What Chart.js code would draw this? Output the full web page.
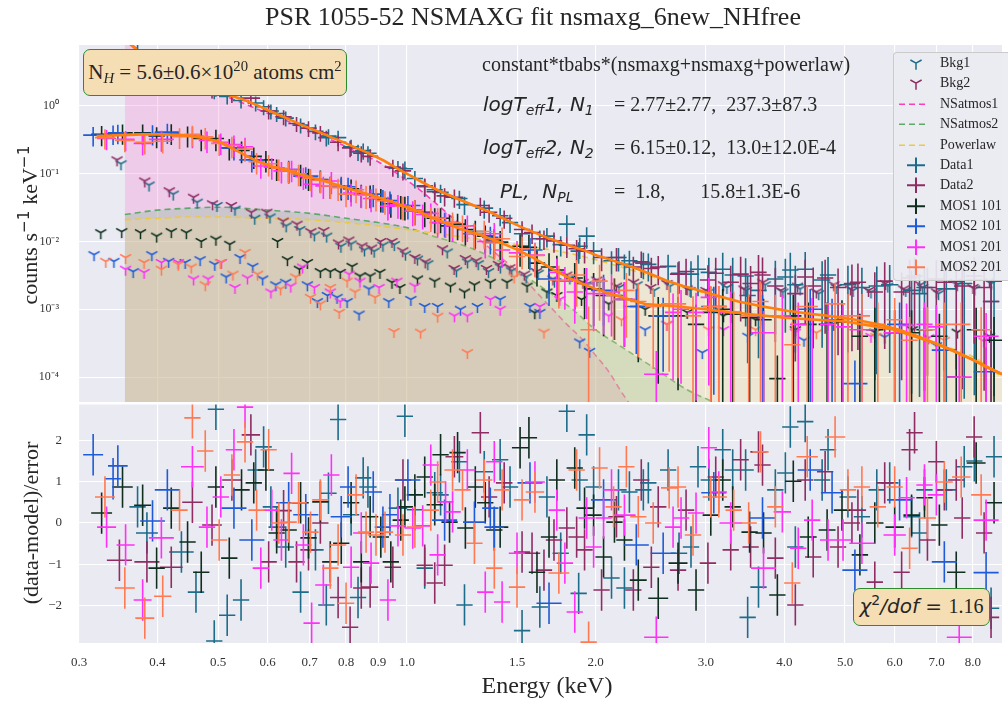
<!DOCTYPE html>
<html lang="en">
<head>
<meta charset="UTF-8">
<title>PSR 1055-52 NSMAXG fit nsmaxg_6new_NHfree</title>
<script src="https://cdn.jsdelivr.net/npm/chart.js"></script>
<style>
  body { margin: 0; background: #fff; }
  #wrap { position: relative; width: 1008px; height: 704px; overflow: hidden;
          font-family: "Liberation Serif", "Times New Roman", serif; color: #262626; }
  #plot { position: absolute; left: 0; top: 0; }
  .lbl { position: absolute; white-space: pre; }
  .math { font-family: "DejaVu Sans", sans-serif; font-style: italic; }
  sub, sup { font-size: 70%; line-height: 0; position: relative; vertical-align: baseline; }
  sub { bottom: -0.3em; }
  sup { top: -0.55em; }
  .box { position: absolute; box-sizing: border-box; background: #F5DEB3;
         border: 1.5px solid #2E8B2E; border-radius: 7px; text-align: center; white-space: nowrap; }
  .vert { position: absolute; transform: translate(-50%, -50%) rotate(-90deg); white-space: nowrap; }
  #legend { position: absolute; left: 893px; top: 52px; width: 130px; padding-bottom: 3px;
            background: rgba(234, 234, 242, 0.92); border: 1px solid rgba(200, 200, 200, 0.9);
            border-radius: 4px; font-size: 14px; }
  #legend .row { position: relative; height: 20.4px; line-height: 20.4px; }
  #legend svg { position: absolute; left: 1px; top: 0; }
  #legend span { position: absolute; left: 46px; top: 0; }
</style>
</head>
<body>
<div id="wrap">
  <canvas id="plot" width="1008" height="704"></canvas>

  <div class="lbl" style="left:0;width:1066px;text-align:center;top:2px;font-size:26px;line-height:30px">PSR 1055-52 NSMAXG fit nsmaxg_6new_NHfree</div>
  <div class="lbl" style="left:0;width:1094px;text-align:center;top:671px;font-size:24px;line-height:28px">Energy (keV)</div>
  <div class="vert" style="left:30px;top:225px;font-size:22px">counts s<sup class="math" style="font-style:normal">−1</sup> keV<sup class="math" style="font-style:normal">−1</sup></div>
  <div class="vert" style="left:31px;top:523px;font-size:22px">(data-model)/error</div>

  <div class="box" style="left:83px;top:49px;width:264px;height:47px;line-height:44px;font-size:21px">N<sub><i>H</i></sub> = 5.6±0.6×10<sup>20</sup> atoms cm<sup>2</sup></div>

  <div class="lbl" style="left:482px;top:52px;font-size:20px;line-height:24px">constant*tbabs*(nsmaxg+nsmaxg+powerlaw)</div>
  <div class="lbl" style="left:483px;top:92px;font-size:20px;line-height:24px"><span class="math" style="display:inline-block;width:131px">logT<sub>eff</sub>1, N<sub>1</sub></span>= 2.77±2.77,  237.3±87.3</div>
  <div class="lbl" style="left:483px;top:135px;font-size:20px;line-height:24px"><span class="math" style="display:inline-block;width:131px">logT<sub>eff</sub>2, N<sub>2</sub></span>= 6.15±0.12,  13.0±12.0E-4</div>
  <div class="lbl" style="left:500px;top:179px;font-size:20px;line-height:24px"><span class="math" style="display:inline-block;width:114px">PL,  N<sub>PL</sub></span>=  1.8,       15.8±1.3E-6</div>

  <div class="box" style="left:853px;top:588px;width:137px;height:38px;line-height:35px;font-size:20px"><span class="math">χ</span><sup class="math" style="font-style:normal">2</sup><span class="math">/dof</span><span class="math" style="font-style:normal"> = </span>1.16</div>

  <div id="legend"></div>
</div>

<script>
// ---- spectrum: energy (keV), counts s^-1 keV^-1, relative error, residual ----
const d1E = [0.372,0.385,0.437,0.461,0.493,0.496,0.517,0.544,0.574,0.591,
  0.607,0.620,0.641,0.677,0.715,0.744,0.750,0.777,0.815,0.836,
  0.852,0.867,0.968,0.993,1.030,1.068,1.108,1.132,1.213,1.236,
  1.329,1.409,1.461,1.527,1.630,1.673,1.760,1.800,1.880,1.887,
  1.936,1.986,2.121,2.176,2.224,2.265,2.384,2.428,2.611,2.718,
  2.840,2.914,3.032,3.191,3.310,3.471,3.497,3.639,3.871,4.016,
  4.090,4.166,4.320,4.597,4.698,5.054,5.320,5.619,5.892,6.385,
  6.574,6.695,7.254,7.747,8.040,8.550,8.644];
const d1F = [6.6,5.0,2.5,1.9,1.6,1.75,1.38,1.2,1.1,0.97,
  0.84,0.77,0.66,0.52,0.42,0.34,0.36,0.34,0.25,0.21,
  0.22,0.20,0.12,0.118,0.085,0.064,0.058,0.053,0.043,0.035,
  0.031,0.024,0.019,0.013,0.011,0.012,0.009,0.018,0.0072,0.0085,
  0.012,0.0072,0.0052,0.0058,0.0046,0.0052,0.0048,0.0046,0.0043,0.0034,
  0.0033,0.0039,0.0035,0.0039,0.0032,0.0031,0.0016,0.0019,0.0028,0.0030,
  0.0038,0.0023,0.0039,0.0027,0.0032,0.0023,0.0021,0.0022,0.0023,0.0019,
  0.0017,0.0021,0.0020,0.0024,0.0027,0.0013,0.0026];
const d1Err = [.2,.2,.22,.22,.22,.22,.24,.24,.25,.25,
  .25,.25,.25,.25,.26,.26,.26,.26,.27,.27,
  .27,.27,.28,.28,.29,.29,.29,.3,.3,.3,
  .3,.3,.3,.32,.32,.32,.33,.35,.35,.35,
  .35,.36,.38,.38,.4,.4,.42,.44,.48,.5,
  .55,.6,.65,.75,.8,.82,.9,.9,.85,.85,
  .8,.9,.8,.9,.85,.9,.95,.95,.95,.97,
  .97,.97,.98,.98,.98,.99,.98];
const d1Res = [0.39,-0.24,-0.70,-1.67,-2.85,2.75,-2.23,-1.86,1.28,1.84,
  0.39,-0.10,-0.58,-1.67,-0.65,-1.98,0.72,2.50,0.20,-1.80,
  1.09,0.87,0.36,2.58,0.32,-1.09,0.73,0.68,1.48,-1.98,
  1.24,1.53,0.87,-2.60,-2.03,0.63,-0.73,2.70,-1.70,1.04,
  2.13,0.87,-1.33,0.80,-1.57,0.75,0.80,0.97,1.28,-0.73,
  -0.58,1.36,1.04,1.77,1.28,1.28,-2.28,-1.55,0.80,1.21,
  2.32,-0.58,2.45,1.04,1.77,0.63,0.15,0.80,0.97,0.15,
  -0.24,0.80,0.80,1.36,1.50,-2.06,1.60];

const d2E = [0.348,0.385,0.421,0.455,0.489,0.526,0.564,0.602,0.636,0.667,
  0.697,0.728,0.777,0.812,0.846,0.874,0.950,0.986,1.068,1.108,
  1.149,1.191,1.310,1.353,1.430,1.527,1.584,1.655,1.717,1.800,
  1.866,1.921,2.045,2.160,2.298,2.366,2.455,2.518,2.708,2.789,
  3.022,3.110,3.286,3.408,3.535,3.639,3.693,3.871,4.166,4.320,
  4.449,4.648,4.874,5.129,5.243,5.578,5.785,6.156,6.339,6.455,
  6.768,6.993,7.201,7.523,7.690,8.035,8.334,8.549];
const d2F = [11,5.0,2.9,2.1,1.65,1.45,1.3,0.84,0.69,0.55,
  0.47,0.40,0.29,0.24,0.20,0.18,0.125,0.11,0.066,0.054,
  0.047,0.045,0.034,0.027,0.022,0.015,0.0135,0.011,0.0102,0.0088,
  0.0078,0.0073,0.0058,0.0058,0.0042,0.0050,0.0040,0.0042,0.0033,0.0036,
  0.0027,0.0034,0.0025,0.0033,0.0024,0.0035,0.0032,0.0022,0.0017,0.0030,
  0.0022,0.0029,0.0021,0.0024,0.0025,0.0018,0.0026,0.0018,0.0029,0.0031,
  0.0021,0.0028,0.0025,0.0026,0.0022,0.0031,0.0021,0.0013];
const d2Err = [.2,.2,.2,.22,.22,.24,.25,.25,.25,.25,
  .26,.26,.26,.27,.27,.27,.28,.28,.29,.29,
  .3,.3,.3,.3,.3,.32,.32,.32,.33,.35,
  .35,.35,.37,.38,.42,.42,.44,.46,.5,.55,
  .65,.7,.75,.8,.82,.8,.82,.85,.9,.8,
  .88,.85,.9,.9,.9,.95,.9,.95,.85,.85,
  .95,.9,.95,.95,.97,.9,.97,.99];
const d2Res = [-0.9,-0.94,-1.07,0.5,-0.05,1.04,2.13,-0.94,0.3,-0.94,
  -0.65,0.0,-1.8,-2.52,-1.57,-1.55,-1.07,1.04,-1.02,-1.45,
  -1.02,1.6,2.18,0.63,0.97,-0.7,-0.73,-1.14,-0.41,-0.12,
  -0.34,-0.65,-1.62,0.15,-1.62,1.04,-1.07,0.39,-1.14,0.31,
  -0.97,1.11,-0.65,1.53,-0.58,1.72,1.4,-0.85,-1.98,1.04,
  -0.82,1.24,-0.58,0.0,0.31,-1.43,0.97,-1.19,1.77,2.18,
  -0.41,1.48,0.8,1.04,0.12,2.08,-0.24,-2.28];

const m1E = [0.326,0.352,0.379,0.399,0.421,0.447,0.470,0.496,0.521,0.545,
  0.570,0.596,0.620,0.648,0.677,0.697,0.728,0.755,0.786,0.815,
  0.846,0.874,0.909,0.943,0.978,0.993,1.030,1.068,1.108,1.132,
  1.170,1.205,1.240,1.286,1.334,1.379,1.409,1.516,1.566,1.613,
  1.686,1.735,1.853,1.921,1.986,2.060,2.144,2.224,2.340,2.518,
  2.708,2.893,3.054,3.191,3.310,3.522,3.707,3.900,4.135,4.368,
  4.682,4.945,5.281,5.578,6.001,6.385,6.695,7.071,7.523,8.094,
  8.644];
const m1F = [0.38,0.40,0.40,0.36,0.40,0.37,0.33,0.33,0.24,0.22,
  0.18,0.16,0.12,0.11,0.10,0.087,0.082,0.066,0.063,0.060,
  0.050,0.049,0.043,0.036,0.034,0.033,0.029,0.027,0.022,0.022,
  0.017,0.018,0.015,0.014,0.012,0.0105,0.0098,0.0085,0.0082,0.0048,
  0.0042,0.0038,0.0029,0.0024,0.0020,0.0016,0.0016,0.0014,0.0011,0.0008,
  0.0008,0.0006,0.0009,0.0010,0.00085,0.00075,0.0007,0.000095,0.0008,0.0006,
  0.0006,0.00065,0.0004,0.0005,0.00045,0.00045,0.0005,0.0004,0.0001,0.0005,
  0.00035];
const m1Err = [.33,.33,.33,.34,.34,.34,.35,.35,.35,.35,
  .35,.35,.35,.35,.35,.36,.36,.36,.36,.37,
  .37,.37,.38,.38,.38,.38,.4,.4,.4,.4,
  .42,.42,.42,.44,.44,.46,.46,.5,.52,.55,
  .6,.62,.66,.7,.72,.75,.78,.8,.85,.9,
  .92,.95,1.0,1.0,1.02,1.05,1.05,1.2,1.05,1.1,
  1.1,1.1,1.15,1.1,1.15,1.15,1.1,1.15,1.3,1.1,
  1.2];
const m1Res = [0.24,0.87,0.43,-1.09,0.36,-0.46,-1.19,0.87,-0.85,0.80,
  0.97,1.28,-0.24,-0.17,0.49,-0.36,0.51,-0.94,-0.49,0.49,
  -0.94,0.15,-0.34,-0.94,0.07,0.39,0.68,1.11,0.44,1.65,
  0.02,1.70,-0.12,0.87,0.49,-0.17,-0.10,1.82,2.06,-1.19,
  -0.34,1.04,1.33,0.36,0.19,-0.82,0.02,-0.41,-1.38,-1.82,
  -0.97,-1.62,0.19,1.04,0.39,-0.22,-0.24,-1.74,1.01,-0.34,
  -0.17,0.31,-0.77,0.0,-0.10,0.19,0.61,-0.05,-1.19,1.45,
  0.49];

const m2E = [0.316,0.340,0.346,0.393,0.415,0.530,0.566,0.648,0.690,0.786,
  0.806,0.884,0.916,0.940,1.004,1.149,1.282,1.359,1.379,1.572,
  1.686,2.060,2.323,2.564,3.088,3.693,4.400,4.768,5.185,6.110,
  7.201,8.395];
const m2F = [0.37,0.39,0.40,0.39,0.41,0.24,0.16,0.115,0.092,0.066,
  0.064,0.050,0.042,0.040,0.034,0.019,0.013,0.0115,0.0098,0.0075,
  0.0028,0.0019,0.0011,0.0008,0.0011,0.0008,0.0010,0.0007,0.00008,0.0006,
  0.00025,0.00012];
const m2Err = [.32,.32,.32,.33,.33,.35,.35,.35,.35,.36,
  .36,.36,.37,.37,.38,.4,.42,.44,.44,.5,
  .6,.7,.8,.85,.95,1.05,1.0,1.05,1.2,1.1,
  1.2,1.3];
const m2Res = [1.65,1.07,1.38,0.05,0.80,0.36,-0.41,0.49,0.20,0.15,
  0.87,0.75,-0.10,0.20,1.04,0.07,0.02,0.36,-0.10,0.97,
  -1.94,0.56,-0.53,-0.73,0.73,0.12,1.28,0.73,-1.14,0.56,
  -0.94,-1.2];

const m3E = [0.332,0.356,0.379,0.406,0.455,0.480,0.505,0.530,0.552,0.585,
  0.609,0.631,0.655,0.684,0.705,0.736,0.758,0.815,0.846,0.877,
  0.933,0.968,1.022,1.060,1.092,1.120,1.153,1.183,1.249,1.334,
  1.379,1.419,1.499,1.601,1.735,1.787,1.853,1.936,1.986,2.060,
  2.121,2.224,2.500,2.659,2.738,2.893,3.032,3.145,3.286,3.707,
  3.972,4.211,4.432,4.698,4.964,5.320,6.001,6.269,6.695,6.993,
  7.606,8.395];
const m3F = [0.33,0.32,0.28,0.32,0.36,0.31,0.29,0.27,0.25,0.13,
  0.125,0.11,0.115,0.09,0.07,0.066,0.078,0.052,0.049,0.043,
  0.033,0.035,0.028,0.025,0.026,0.019,0.019,0.017,0.017,0.010,
  0.013,0.0075,0.0068,0.0063,0.0035,0.0026,0.0018,0.0024,0.0017,0.0017,
  0.0018,0.0014,0.00011,0.0009,0.0010,0.0009,0.0015,0.0011,0.0009,0.00045,
  0.0008,0.0006,0.0007,0.0006,0.00055,0.0005,0.00045,0.00058,0.0006,0.00055,
  0.0001,0.0004];
const m3Err = [.33,.33,.34,.34,.34,.35,.35,.35,.35,.35,
  .35,.35,.35,.36,.36,.36,.36,.37,.37,.37,
  .38,.38,.4,.4,.4,.4,.41,.42,.42,.44,
  .44,.46,.5,.52,.6,.62,.66,.7,.72,.75,
  .78,.8,1.2,.9,.92,.95,.95,1.0,1.02,1.1,
  1.05,1.1,1.1,1.1,1.1,1.15,1.15,1.1,1.1,1.1,
  1.3,1.2];
const m3Res = [-0.10,-0.53,-1.86,-0.36,1.36,-0.10,0.63,1.77,2.80,-1.09,
  0.31,-0.41,1.20,-0.53,-2.42,-1.50,1.16,-1.07,-0.24,-0.97,
  -1.86,-0.07,-0.12,-0.07,1.40,-0.77,0.51,0.27,1.28,-1.67,
  1.48,-1.91,-0.73,0.99,0.31,-0.97,-2.15,0.12,-0.58,0.12,
  0.80,0.19,-2.76,-0.10,0.12,0.24,1.82,0.75,0.0,-1.09,
  0.27,-0.61,0.07,-0.41,-0.41,-0.49,-0.29,0.61,0.92,0.68,
  -2.76,0.07];

const m4E = [0.330,0.355,0.382,0.408,0.434,0.455,0.477,0.502,0.526,0.552,
  0.576,0.602,0.625,0.648,0.672,0.702,0.728,0.755,0.777,0.800,
  0.830,0.861,0.893,0.923,0.986,1.030,1.092,1.120,1.183,1.227,
  1.282,1.329,1.379,1.419,1.499,1.527,1.601,1.748,1.866,1.950,
  2.030,2.137,2.240,2.340,2.472,2.621,2.708,2.861,3.054,3.145,
  3.322,3.510,3.666,3.871,4.120,4.352,4.821,5.054,5.320,5.640,
  6.001,6.339,6.768,7.201,7.662,8.244];
const m4F = [0.34,0.31,0.29,0.30,0.35,0.38,0.35,0.28,0.26,0.23,
  0.15,0.14,0.12,0.11,0.10,0.086,0.08,0.066,0.062,0.05,
  0.058,0.048,0.044,0.04,0.033,0.029,0.023,0.022,0.019,0.017,
  0.013,0.014,0.0095,0.011,0.006,0.0078,0.0062,0.0027,0.0032,0.0005,
  0.0026,0.0016,0.0019,0.0013,0.0011,0.0012,0.0012,0.0008,0.0011,0.0011,
  0.0009,0.0008,0.0013,0.0008,0.0003,0.0011,0.0012,0.0008,0.0008,0.0006,
  0.0007,0.00035,0.0005,0.0006,0.0006,0.0005];
const m4Err = [.33,.33,.34,.34,.34,.34,.35,.35,.35,.35,
  .35,.35,.35,.35,.35,.36,.36,.36,.36,.36,
  .37,.37,.37,.38,.38,.4,.4,.4,.41,.42,
  .42,.44,.44,.46,.5,.5,.52,.62,.66,1.2,
  .74,.78,.8,.85,.88,.9,.92,.95,1.0,1.0,
  1.02,1.05,1.0,1.05,1.2,1.05,1.05,1.1,1.1,1.1,
  1.1,1.2,1.15,1.1,1.1,1.15];
const m4Res = [0.63,-1.57,-2.30,-1.77,0.31,2.54,1.74,-0.41,1.16,1.96,
  0.31,1.77,0.0,0.02,0.49,-0.22,0.56,-1.09,-0.53,-1.94,
  0.68,-0.22,-0.29,-0.22,-0.29,-0.10,0.31,0.99,1.28,0.80,
  -0.49,1.04,-1.09,0.80,-1.55,0.56,0.75,-1.21,1.28,-2.88,
  1.33,0.39,1.36,0.15,0.0,0.85,0.87,-0.29,0.63,0.63,
  0.31,0.0,1.72,0.39,-1.45,1.60,2.08,0.80,0.87,0.39,
  0.87,-0.61,0.12,0.99,1.11,0.68];

// residuals are in units of the 1-sigma error, drawn as +-0.5
const residErr = 0.5;

// ---- background spectra ----
const bkg1E = [0.350,0.388,0.424,0.463,0.498,0.532,0.572,0.605,0.642,0.675,0.712,0.745,0.785,0.815,0.856,0.887,0.916,0.955,0.995,1.04,1.08,1.16,1.20,1.25,1.30,1.35,1.41,1.47,1.55,1.62,1.72,1.82,1.93,2.03,2.18,2.33,2.48,2.63,2.83,3.03,3.24,3.48,3.73,3.98,4.24,4.54,4.84,5.15,5.50,5.85,6.25,6.65,7.05,7.55,8.05,8.55];
const bkg1F = [0.14,0.068,0.05,0.038,0.034,0.030,0.022,0.023,0.017,0.015,0.0125,0.012,0.0085,0.0092,0.0075,0.0072,0.0088,0.009,0.0065,0.0055,0.0047,0.007,0.0037,0.005,0.0047,0.0036,0.0042,0.0037,0.003,0.0034,0.0026,0.0029,0.0023,0.0025,0.0021,0.0023,0.0019,0.0022,0.0019,0.0018,0.0021,0.0019,0.0023,0.0018,0.002,0.0017,0.0021,0.0019,0.0018,0.0022,0.0019,0.0021,0.0017,0.0023,0.002,0.0024];
const bkg2E = [0.345,0.382,0.418,0.457,0.490,0.525,0.565,0.598,0.635,0.668,0.703,0.737,0.778,0.808,0.848,0.878,0.908,0.947,0.985,1.03,1.07,1.14,1.19,1.24,1.29,1.34,1.40,1.46,1.54,1.61,1.71,1.80,1.91,2.01,2.16,2.30,2.45,2.60,2.80,3.00,3.20,3.45,3.70,3.95,4.20,4.50,4.80,5.10,5.45,5.80,6.20,6.60,7.00,7.50,8.00,8.50];
const bkg2F = [0.16,0.078,0.056,0.045,0.036,0.034,0.027,0.027,0.020,0.018,0.014,0.0145,0.0095,0.0105,0.0086,0.008,0.010,0.010,0.0073,0.0058,0.005,0.0078,0.004,0.0056,0.0052,0.004,0.0046,0.0041,0.0033,0.0036,0.0028,0.0032,0.0025,0.0027,0.0022,0.0025,0.0021,0.0024,0.002,0.0019,0.0023,0.002,0.0025,0.0019,0.0022,0.0018,0.0023,0.002,0.0019,0.0024,0.002,0.0023,0.0018,0.0025,0.0021,0.0026];
const m1bE = [0.325,0.351,0.376,0.399,0.421,0.445,0.470,0.496,0.522,0.622,0.645,0.674,0.694,0.728,0.755,0.783,0.818,0.842,0.874,0.906,0.947,0.975,1.04,1.108,1.174,1.236,1.282,1.359,1.445,1.555,1.60,1.673,1.735,1.90,2.10,2.40,2.80,3.20,3.60,4.166,4.80,5.578,6.40,7.55,8.50];
const m1bF = [0.0135,0.014,0.0135,0.012,0.014,0.0135,0.010,0.0108,0.0091,0.010,0.0054,0.0039,0.0049,0.0036,0.0036,0.0035,0.0043,0.0031,0.0031,0.0035,0.0025,0.0021,0.0028,0.0026,0.0022,0.0018,0.0023,0.0025,0.0025,0.0022,0.00089,0.0018,0.0016,0.0014,0.0012,0.0010,0.0009,0.0008,0.0007,0.0005,0.0006,0.00046,0.0005,0.00046,0.0004];
const m2bE = [0.317,0.341,0.366,0.392,0.417,0.443,0.468,0.494,0.515,0.542,0.568,0.589,0.618,0.641,0.694,0.720,0.747,0.774,0.803,0.839,0.870,0.936,1.015,1.068,1.12,1.218,1.296,1.409,1.572,1.63,1.887,1.957,2.40,2.96,3.50,4.30,5.785,7.0];
const m2bF = [0.0064,0.0051,0.0036,0.0064,0.0051,0.0049,0.0054,0.0046,0.003,0.0058,0.0043,0.0028,0.0023,0.0025,0.0023,0.0013,0.0016,0.0015,0.0013,0.00085,0.002,0.0013,0.0014,0.0011,0.0011,0.001,0.0011,0.0014,0.0011,0.0009,0.00033,0.00024,0.0005,0.00023,0.0004,0.00035,0.00039,0.00029];
const m3bE = [0.356,0.381,0.406,0.432,0.457,0.482,0.506,0.532,0.557,0.607,0.653,0.682,0.712,0.755,0.783,0.809,0.842,0.903,0.964,1.03,1.191,1.249,1.359,1.409,1.63,1.754,2.10,2.60,3.20,4.166,5.50,6.80,8.33];
const m3bF = [0.0039,0.0035,0.0049,0.0049,0.0028,0.0028,0.0049,0.0021,0.0029,0.0018,0.0022,0.0042,0.0021,0.0018,0.0013,0.0033,0.0026,0.0021,0.0026,0.0022,0.0008,0.0008,0.0014,0.001,0.0011,0.0014,0.0008,0.0006,0.0005,0.00046,0.0004,0.00038,0.00034];
const m4bE = [0.331,0.356,0.381,0.406,0.432,0.453,0.477,0.504,0.528,0.552,0.578,0.629,0.665,0.702,0.728,0.755,0.780,0.803,0.827,0.890,0.954,1.052,1.12,1.249,1.483,1.655,2.20,2.60,3.03,3.60,4.50,5.60,7.20];
const m4bF = [0.0051,0.0058,0.0049,0.0039,0.0046,0.0042,0.0023,0.0049,0.0033,0.0069,0.0033,0.002,0.003,0.0015,0.0012,0.0021,0.0009,0.0026,0.0018,0.0015,0.00047,0.00046,0.00079,0.00023,0.003,0.00046,0.0007,0.0006,0.0005,0.0005,0.00045,0.0004,0.00035];

// ---- fitted model and its components ----
const pnModelE = [0.355,0.38,0.40,0.42,0.44,0.46,0.48,0.50,0.52,0.54,0.56,0.58,0.60,0.62,0.64,0.66,0.68,0.70,0.72,0.74,0.76,0.78,0.80,0.83,0.86,0.89,0.92,0.95,0.98,1.01,1.05,1.09,1.13,1.17,1.21,1.26,1.31,1.36,1.41,1.47,1.53,1.60,1.67,1.75,1.83,1.92,2.01,2.11,2.22,2.34,2.47,2.61,2.76,2.93,3.12,3.38,3.70,4.05,4.40,4.77,5.20,5.65,6.10,6.53,7.00,7.50,8.00,8.40,8.74,8.90];
const pnModel = [9.5,5.5,4.0,3.1,2.5,2.1,1.8,1.6,1.45,1.3,1.15,1.0,0.87,0.76,0.67,0.59,0.52,0.47,0.42,0.38,0.34,0.31,0.28,0.24,0.21,0.18,0.155,0.13,0.11,0.095,0.078,0.065,0.055,0.048,0.042,0.036,0.031,0.027,0.023,0.019,0.016,0.0135,0.0115,0.0098,0.0085,0.0074,0.0062,0.0054,0.0046,0.0039,0.0032,0.0026,0.0022,0.0019,0.0016,0.0013,0.0011,0.00095,0.00086,0.00079,0.0007,0.0006,0.0005,0.0004,0.00031,0.00024,0.00018,0.00014,0.00012,0.00011];
const mosModelE = [0.32,0.35,0.38,0.41,0.44,0.47,0.50,0.52,0.54,0.56,0.58,0.61,0.64,0.67,0.70,0.74,0.78,0.82,0.86,0.90,0.95,1.00,1.05,1.10,1.15,1.20,1.30,1.40,1.50,1.60,1.70,1.80,1.90,2.00,2.20,2.40,2.70,3.00,3.50,4.00,5.00,6.00,7.00,8.00,8.90];
const mosModel = [0.36,0.37,0.38,0.38,0.37,0.34,0.30,0.25,0.21,0.175,0.15,0.128,0.114,0.10,0.089,0.077,0.067,0.058,0.051,0.045,0.038,0.032,0.027,0.022,0.019,0.016,0.0128,0.0099,0.0076,0.0056,0.004,0.003,0.0024,0.002,0.0015,0.0012,0.0011,0.001,0.00085,0.00075,0.00066,0.0005,0.00031,0.00018,0.00011];
const atmos1E = [0.355,0.38,0.40,0.43,0.46,0.50,0.55,0.60,0.65,0.70,0.75,0.80,0.85,0.90,0.95,1.00,1.05,1.10,1.15,1.20,1.30,1.40,1.50,1.60,1.70,1.80,1.90,2.00,2.10,2.20,2.26];
const atmos1 = [9.5,6.0,4.3,3.0,2.2,1.55,1.08,0.78,0.58,0.44,0.33,0.25,0.19,0.15,0.11,0.08,0.057,0.04,0.028,0.02,0.011,0.0062,0.0036,0.0019,0.00105,0.0006,0.00037,0.00021,0.00012,0.00006,0.000042];
const atmos2E = [0.355,0.40,0.45,0.50,0.60,0.70,0.80,0.90,1.00,1.10,1.20,1.30,1.40,1.55,1.70,1.85,2.00,2.20,2.50,2.80,3.10];
const atmos2 = [0.025,0.029,0.031,0.032,0.029,0.026,0.022,0.019,0.016,0.012,0.0095,0.0072,0.0052,0.003,0.0017,0.00095,0.0005,0.00028,0.00013,0.000065,0.000042];
const plawE = [0.355,0.40,0.45,0.50,0.60,0.70,0.80,0.90,1.00,1.20,1.40,1.60,1.80,2.00,2.30,2.60,3.00,3.50,4.00,4.50,5.00,6.00,7.00,8.00,8.90];
const plaw = [0.021,0.022,0.023,0.023,0.022,0.021,0.019,0.017,0.015,0.012,0.0098,0.0082,0.0068,0.0054,0.0037,0.0026,0.0017,0.0012,0.00095,0.00082,0.0007,0.00048,0.00031,0.0002,0.0001];

// ---- axes ----
const energyTicks = [0.3,0.4,0.5,0.6,0.7,0.8,0.9,1.0,1.5,2.0,3.0,4.0,5.0,6.0,7.0,8.0];
const countTicks = [1e-4,1e-3,1e-2,1e-1,1];
const countTickLabels = ['10⁻⁴','10⁻³','10⁻²','10⁻¹','10⁰'];
const residTicks = [-2,-1,0,1,2];
const residTickLabels = ['−2','−1','0','1','2'];

const C = {
  teal: '#1D6C89', maroon: '#8F2D63', dkgreen: '#0F2E1E', blue: '#1F5BD6',
  magenta: '#FF30F8', coral: '#FF7A52', model: '#FF7F0E', zero: '#8B5A1B',
  pink: '#FF3DB8', green: '#5DAA68', gold: '#EBC942'
};

// horizontal half-width of a bin, taken from the spacing to its neighbours (log energy)
function binEdges(E, i) {
  const l = Math.log10(E[i]);
  const gl = i > 0 ? l - Math.log10(E[i - 1]) : Math.log10(E[1]) - l;
  const gr = i < E.length - 1 ? Math.log10(E[i + 1]) - l : gl;
  const half = Math.min(0.02, Math.max(0.013, (gl + gr) / 4));
  return [Math.pow(10, l - half), Math.pow(10, l + half)];
}
function specPoints(E, F, err) {
  return E.map((e, i) => {
    const [xl, xh] = binEdges(E, i);
    return { x: e, y: F[i], xl, xh, yl: F[i] * (1 - err[i]), yh: F[i] * (1 + err[i]) };
  });
}
function residPoints(E, R) {
  return E.map((e, i) => {
    const [xl, xh] = binEdges(E, i);
    return { x: e, y: R[i], xl, xh, yl: R[i] - residErr, yh: R[i] + residErr };
  });
}
const xy = (X, Y) => X.map((x, i) => ({ x, y: Y[i] }));

// "Y" shaped marker for the background spectra
function triMarker(color) {
  const c = document.createElement('canvas');
  c.width = 15; c.height = 15;
  const g = c.getContext('2d');
  g.strokeStyle = color; g.lineWidth = 1.5;
  g.beginPath();
  g.moveTo(7.5, 7.5); g.lineTo(7.5, 14);
  g.moveTo(7.5, 7.5); g.lineTo(1.9, 4.3);
  g.moveTo(7.5, 7.5); g.lineTo(13.1, 4.3);
  g.stroke();
  return c;
}

const series = [
  { label: 'Data1', E: d1E, F: d1F, err: d1Err, res: d1Res, color: C.teal },
  { label: 'Data2', E: d2E, F: d2F, err: d2Err, res: d2Res, color: C.maroon },
  { label: 'MOS1 101', E: m1E, F: m1F, err: m1Err, res: m1Res, color: C.dkgreen },
  { label: 'MOS2 101', E: m2E, F: m2F, err: m2Err, res: m2Res, color: C.blue },
  { label: 'MOS1 201', E: m3E, F: m3F, err: m3Err, res: m3Res, color: C.magenta },
  { label: 'MOS2 201', E: m4E, F: m4F, err: m4Err, res: m4Res, color: C.coral }
];
const backgrounds = [
  { label: 'Bkg1', E: bkg1E, F: bkg1F, color: C.teal },
  { label: 'Bkg2', E: bkg2E, F: bkg2F, color: C.maroon },
  { label: 'MOS1 101 bkg', E: m1bE, F: m1bF, color: C.dkgreen },
  { label: 'MOS2 101 bkg', E: m2bE, F: m2bF, color: C.blue },
  { label: 'MOS1 201 bkg', E: m3bE, F: m3bF, color: C.magenta },
  { label: 'MOS2 201 bkg', E: m4bE, F: m4bF, color: C.coral }
];

const datasets = [];
// filled components, lowest layer
[
  { label: 'NSatmos1', X: atmos1E, Y: atmos1, line: C.pink, fill: 'rgba(250,110,202,0.25)', order: 60 },
  { label: 'NSatmos2', X: atmos2E, Y: atmos2, line: C.green, fill: 'rgba(121,187,142,0.3)', order: 59 },
  { label: 'Powerlaw', X: plawE, Y: plaw, line: C.gold, fill: 'rgba(244,221,139,0.3)', order: 58 }
].forEach(c => datasets.push({
  type: 'line', label: c.label, data: xy(c.X, c.Y), yAxisID: 'y', order: c.order,
  borderColor: c.line, borderWidth: 1.6, borderDash: [6, 4], backgroundColor: c.fill,
  fill: 'start', pointRadius: 0, cubicInterpolationMode: 'monotone'
}));
backgrounds.forEach((b, i) => datasets.push({
  type: 'scatter', label: b.label, data: xy(b.E, b.F), yAxisID: 'y', order: 50 - i,
  pointStyle: triMarker(b.color), pointRadius: 5, borderColor: b.color
}));
series.forEach((s, i) => {
  datasets.push({ type: 'scatter', label: s.label, data: specPoints(s.E, s.F, s.err), yAxisID: 'y',
    order: 40 - i, pointRadius: 0, borderColor: s.color, crosses: true });
  datasets.push({ type: 'scatter', label: s.label + ' resid', data: residPoints(s.E, s.res), yAxisID: 'r',
    order: 40 - i, pointRadius: 0, borderColor: s.color, crosses: true });
});
[[pnModelE, pnModel], [mosModelE, mosModel]].forEach(([X, Y]) => datasets.push({
  type: 'line', label: 'model', data: xy(X, Y), yAxisID: 'y', order: 10,
  borderColor: C.model, borderWidth: 2.6, pointRadius: 0, fill: false
}));
datasets.push({
  type: 'line', label: 'zero', data: [{ x: 0.3, y: 0 }, { x: 8.9, y: 0 }], yAxisID: 'r', order: 5,
  borderColor: C.zero, borderWidth: 2, pointRadius: 0, fill: false
});

// grey panel backgrounds
const panelBackground = {
  id: 'panelBackground',
  beforeDraw(chart) {
    const { ctx, chartArea: a, scales } = chart;
    ctx.save();
    ctx.fillStyle = '#EAEAF2';
    ctx.fillRect(a.left, scales.y.top, a.right - a.left, scales.y.bottom - scales.y.top);
    ctx.fillRect(a.left, scales.r.top, a.right - a.left, scales.r.bottom - scales.r.top);
    ctx.restore();
  },
  afterDatasetsDraw(chart) {
    // thin white gap between the spectrum and the residual panel
    const { ctx, chartArea: a, scales } = chart;
    ctx.save();
    ctx.fillStyle = '#fff';
    ctx.fillRect(a.left - 1, scales.y.bottom - 1, a.right - a.left + 2, 2.5);
    ctx.restore();
  }
};

// error-bar crosses: bin width horizontally, error vertically
const crossBars = {
  id: 'crossBars',
  afterDatasetDraw(chart, args) {
    const ds = chart.data.datasets[args.index];
    if (!ds.crosses) return;
    const xs = chart.scales.x, ys = chart.scales[ds.yAxisID], a = chart.chartArea;
    const log = ys.type === 'logarithmic';
    const py = v => (log && v <= 0) ? ys.bottom + 2 : ys.getPixelForValue(v);
    const ctx = chart.ctx;
    ctx.save();
    ctx.beginPath();
    ctx.rect(a.left, ys.top, a.right - a.left, ys.bottom - ys.top);
    ctx.clip();
    ctx.strokeStyle = ds.borderColor;
    ctx.lineWidth = 1.6;
    ctx.beginPath();
    ds.data.forEach(p => {
      const px = xs.getPixelForValue(p.x), y = ys.getPixelForValue(p.y);
      ctx.moveTo(xs.getPixelForValue(p.xl), y);
      ctx.lineTo(xs.getPixelForValue(p.xh), y);
      ctx.moveTo(px, py(p.yh));
      ctx.lineTo(px, py(p.yl));
    });
    ctx.stroke();
    ctx.restore();
  }
};

const tickFont = { family: "'Liberation Serif', serif", size: 13 };
const gridStyle = { color: '#FFFFFF', lineWidth: 1.1, drawTicks: false };

new Chart(document.getElementById('plot'), {
  type: 'scatter',
  data: { datasets },
  plugins: [panelBackground, crossBars],
  options: {
    responsive: false,
    animation: false,
    devicePixelRatio: 1,
    events: [],
    layout: { padding: { top: 45, right: 0, bottom: 0, left: 0 } },
    plugins: { legend: { display: false }, tooltip: { enabled: false } },
    scales: {
      x: {
        type: 'logarithmic', min: 0.3, max: 8.9,
        grid: gridStyle, border: { display: false },
        afterBuildTicks: s => { s.ticks = energyTicks.map(v => ({ value: v })); },
        afterFit: s => { s.height = 61; },
        ticks: { autoSkip: false, maxRotation: 0, padding: 12, color: '#333', font: tickFont,
                 callback: v => Number(v).toFixed(1) }
      },
      r: {
        type: 'linear', position: 'left', stack: 'panels', stackWeight: 240,
        min: -2.9, max: 2.9,
        grid: gridStyle, border: { display: false },
        afterBuildTicks: s => { s.ticks = residTicks.map(v => ({ value: v })); },
        afterFit: s => { s.width = 79; },
        ticks: { autoSkip: false, padding: 17, color: '#333', font: tickFont,
                 callback: (v, i) => residTickLabels[i] }
      },
      y: {
        type: 'logarithmic', position: 'left', stack: 'panels', stackWeight: 358,
        min: 4.15e-5, max: 7.9,
        grid: gridStyle, border: { display: false },
        afterBuildTicks: s => { s.ticks = countTicks.map(v => ({ value: v })); },
        afterFit: s => { s.width = 79; },
        ticks: { autoSkip: false, padding: 20, color: '#333', font: { family: "'Liberation Serif', serif", size: 12 },
                 callback: (v, i) => countTickLabels[i] }
      }
    }
  }
});

// legend
const legendItems = [
  { label: 'Bkg1', kind: 'tri', color: C.teal },
  { label: 'Bkg2', kind: 'tri', color: C.maroon },
  { label: 'NSatmos1', kind: 'dash', color: C.pink },
  { label: 'NSatmos2', kind: 'dash', color: C.green },
  { label: 'Powerlaw', kind: 'dash', color: C.gold },
  ...series.map(s => ({ label: s.label, kind: 'cross', color: s.color }))
];
const legend = document.getElementById('legend');
legendItems.forEach(it => {
  let g;
  if (it.kind === 'tri') {
    g = `<path d="M21 10.2 V16.7 M21 10.2 L15.4 7 M21 10.2 L26.6 7" stroke="${it.color}" stroke-width="1.5" fill="none"/>`;
  } else if (it.kind === 'dash') {
    g = `<line x1="4" y1="10.2" x2="34" y2="10.2" stroke="${it.color}" stroke-width="1.6" stroke-dasharray="6 4"/>`;
  } else {
    g = `<path d="M12 10.2 H30 M21 2.5 V18" stroke="${it.color}" stroke-width="2" fill="none"/>`;
  }
  const row = document.createElement('div');
  row.className = 'row';
  row.innerHTML = `<svg width="40" height="20.4">${g}</svg><span>${it.label}</span>`;
  legend.appendChild(row);
});
</script>
</body>
</html>
